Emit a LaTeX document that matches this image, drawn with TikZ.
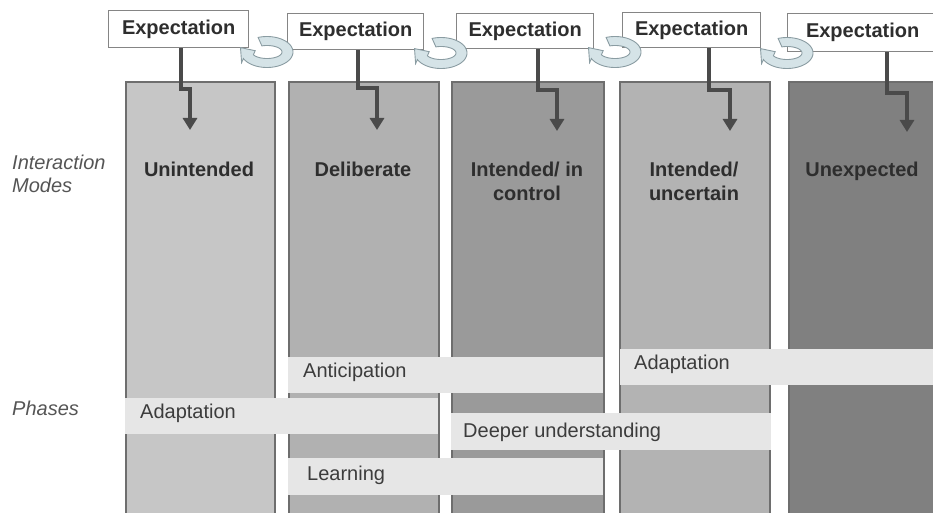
\documentclass[tikz,border=0pt]{standalone}
\usepackage{fontspec}
\setmainfont{Liberation Sans}
\usetikzlibrary{arrows.meta}

\definecolor{colA}{HTML}{C6C6C6}
\definecolor{colB}{HTML}{B1B1B1}
\definecolor{colC}{HTML}{9A9A9A}
\definecolor{colD}{HTML}{B3B3B3}
\definecolor{colE}{HTML}{808080}
\definecolor{colline}{HTML}{6E6E6E}
\definecolor{barfill}{HTML}{E6E6E6}
\definecolor{boxline}{HTML}{858585}
\definecolor{flowcol}{HTML}{4A4A4A}
\definecolor{ringfill}{HTML}{D5E3E7}
\definecolor{ringline}{HTML}{8A9CA2}
\definecolor{darktext}{HTML}{2E2E2E}
\definecolor{phasetextcol}{HTML}{3C3C3C}
\definecolor{sidetext}{HTML}{555555}

\begin{document}
\begin{tikzpicture}[x=1pt,y=-1pt,
  column/.style={draw=colline, line width=1.8, minimum height=470, anchor=north west, inner sep=0},
  phasebar/.style={fill=barfill, draw=none, anchor=north west, inner sep=0},
  phaselabel/.style={anchor=base west, inner sep=0, text=phasetextcol, font=\fontsize{20}{24}\selectfont},
  modelabel/.style={anchor=north, inner sep=0, align=center, text=darktext, font=\fontsize{20}{23.5}\selectfont\bfseries},
  sidelabel/.style={anchor=north west, inner sep=0, align=left, text=sidetext, font=\fontsize{20}{23}\selectfont\itshape},
  expbox/.style={draw=boxline, fill=white, line width=1.4, anchor=north west, inner sep=0, text=darktext, font=\fontsize{20}{24}\selectfont\bfseries},
  flow/.style={draw=flowcol, line width=4, -{Triangle[width=14,length=12]}},
  loopar/.pic={
    \filldraw[fill=ringfill, draw=ringline, line width=0.9]
      plot[domain=-110:155, samples=60] ({26*cos(\x)},{15.5*sin(\x)})
      -- (-25.4,10.6) -- (-26.5,-4.4) -- (-11.8,-1.3)
      -- plot[domain=155:-110, samples=60] ({15*cos(\x)},{6.5*sin(\x)}) -- cycle;
  }]
\useasboundingbox (0,0) rectangle (933,513);
\clip (0,0) rectangle (933,513);

% interaction mode columns
\node[column, fill=colA, minimum width=149] (c1) at (125,81) {};
\node[column, fill=colB, minimum width=150] (c2) at (288,81) {};
\node[column, fill=colC, minimum width=152] (c3) at (451,81) {};
\node[column, fill=colD, minimum width=150] (c4) at (619,81) {};
\node[column, fill=colE, minimum width=160] (c5) at (788,81) {};

% phase bars
\node[phasebar, minimum width=315, minimum height=36] (p1) at (288,357) {};
\node[phasebar, minimum width=320, minimum height=36] (p2) at (620,349) {};
\node[phasebar, minimum width=313, minimum height=36] (p3) at (125,398) {};
\node[phasebar, minimum width=320, minimum height=37] (p4) at (451,413) {};
\node[phasebar, minimum width=315, minimum height=37] (p5) at (288,458) {};

\node[phaselabel] (l1) at (303,377) {Anticipation};
\node[phaselabel] (l2) at (634,369) {Adaptation};
\node[phaselabel] (l3) at (140,418) {Adaptation};
\node[phaselabel] (l4) at (463,437) {Deeper understanding};
\node[phaselabel] (l5) at (307,480) {Learning};

% column headings
\node[modelabel] (m1) at (199,162) {Unintended};
\node[modelabel] (m2) at (363,162) {Deliberate};
\node[modelabel] (m3) at (527,162) {Intended/ in\\control};
\node[modelabel] (m4) at (694,162) {Intended/\\uncertain};
\node[modelabel] (m5) at (862,162) {Unexpected};

% row captions
\node[sidelabel] (s1) at (12,155) {Interaction\\Modes};
\node[sidelabel] (s2) at (12,401) {Phases};

% expectation boxes
\node[expbox, minimum width=140, minimum height=37] (e1) at (108,10) {Expectation};
\node[expbox, minimum width=136, minimum height=36] (e2) at (287,13) {Expectation};
\node[expbox, minimum width=137, minimum height=35] (e3) at (456,13) {Expectation};
\node[expbox, minimum width=138, minimum height=35] (e4) at (622,12) {Expectation};
\node[expbox, minimum width=150, minimum height=38] (e5) at (787,13) {Expectation};

% cycling arrows between neighbouring expectation boxes
\pic at (267,52) {loopar};
\pic at (441,53) {loopar};
\pic at (615,52) {loopar};
\pic at (787,53) {loopar};

% arrow tips inside the columns
\coordinate (t1) at (190,130);
\coordinate (t2) at (377,130);
\coordinate (t3) at (557,131);
\coordinate (t4) at (730,131);
\coordinate (t5) at (907,132);

\draw[flow] ([xshift=2]e1.south) |- ([yshift=41]t1) -- (t1);
\draw[flow] ([xshift=2]e2.south) |- ([yshift=42]t2) -- (t2);
\draw[flow] ([xshift=12.5]e3.south) |- ([yshift=41]t3) -- (t3);
\draw[flow] ([xshift=17]e4.south) |- ([yshift=41]t4) -- (t4);
\draw[flow] ([xshift=24]e5.south) |- ([yshift=39]t5) -- (t5);
\end{tikzpicture}
\end{document}
